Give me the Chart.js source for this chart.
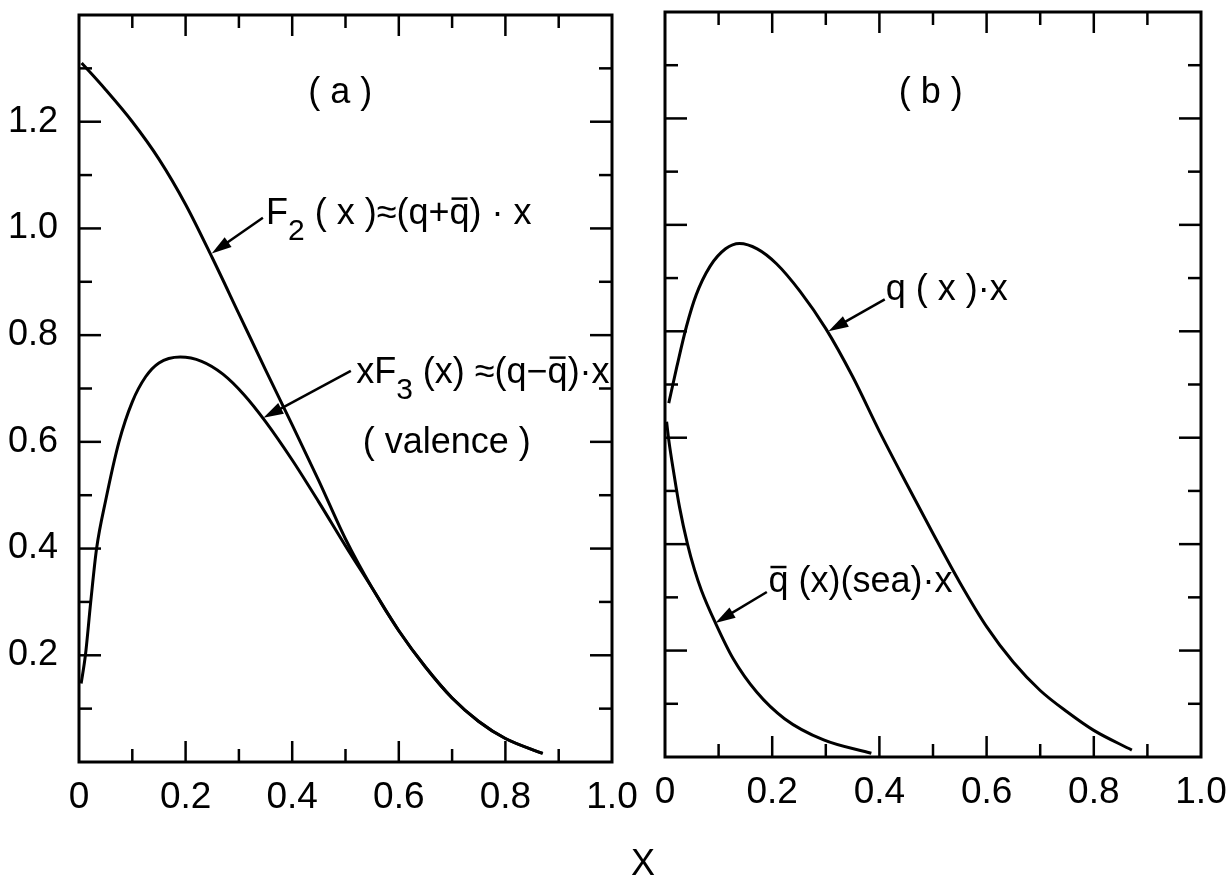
<!DOCTYPE html>
<html>
<head>
<meta charset="utf-8">
<script src="https://cdn.jsdelivr.net/npm/chart.js@4.4.1/dist/chart.umd.min.js"></script>
<style>
  html, body { margin: 0; padding: 0; background: #fff; }
  #wrap { position: relative; width: 1226px; height: 878px; }
  canvas { position: absolute; left: 0; top: 0; }
</style>
</head>
<body>
<div id="wrap">
  <canvas id="panelA" width="1226" height="878"></canvas>
  <canvas id="panelB" width="1226" height="878"></canvas>
</div>
<script>
// ---- data ----
// panel (a)
const f2X  = [0.005, 0.05, 0.10, 0.15, 0.20, 0.25, 0.30, 0.35, 0.40, 0.45, 0.50, 0.55, 0.60, 0.65, 0.70, 0.75, 0.80, 0.87];
const f2Y  = [1.31, 1.26, 1.20, 1.13, 1.045, 0.945, 0.84, 0.735, 0.632, 0.527, 0.418, 0.326, 0.246, 0.178, 0.12, 0.076, 0.044, 0.016];
const xf3X = [0.004, 0.012, 0.022, 0.033, 0.05, 0.075, 0.10, 0.125, 0.15, 0.19, 0.23, 0.27, 0.31, 0.35, 0.40, 0.45, 0.50, 0.55, 0.60, 0.65, 0.70, 0.75, 0.80, 0.87];
const xf3Y = [0.147, 0.20, 0.30, 0.40, 0.49, 0.60, 0.675, 0.722, 0.748, 0.759, 0.751, 0.727, 0.688, 0.638, 0.566, 0.487, 0.405, 0.326, 0.246, 0.178, 0.12, 0.076, 0.044, 0.016];
// panel (b)
const qX   = [0.007, 0.022, 0.04, 0.058, 0.084, 0.113, 0.139, 0.172, 0.208, 0.252, 0.30, 0.35, 0.40, 0.45, 0.50, 0.55, 0.60, 0.65, 0.70, 0.75, 0.80, 0.871];
const qY   = [0.665, 0.733, 0.809, 0.868, 0.922, 0.955, 0.965, 0.955, 0.927, 0.875, 0.805, 0.715, 0.612, 0.515, 0.420, 0.328, 0.245, 0.178, 0.125, 0.085, 0.050, 0.013];
const seaX = [0.003, 0.007, 0.017, 0.027, 0.042, 0.055, 0.068, 0.094, 0.127, 0.171, 0.223, 0.296, 0.385];
const seaY = [0.63, 0.596, 0.53, 0.47, 0.40, 0.352, 0.313, 0.252, 0.185, 0.122, 0.072, 0.032, 0.007];

const xTickLabels = ['0', '0.2', '0.4', '0.6', '0.8', '1.0'];
const yTickLabels = ['0.2', '0.4', '0.6', '0.8', '1.0', '1.2'];

const FONT = "'Liberation Sans', Arial, sans-serif";

const pts = (xs, ys) => xs.map((x, i) => ({ x: x, y: ys[i] }));

function curve(xs, ys) {
  return {
    data: pts(xs, ys),
    showLine: true,
    borderColor: '#000',
    borderWidth: 3,
    pointRadius: 0,
    cubicInterpolationMode: 'monotone',
    fill: false
  };
}

// text made of parts: plain, subscript, or with a bar over it; y is the baseline
function drawNote(ctx, x, y, parts, align) {
  const big = 36, small = 30;
  let total = 0;
  parts.forEach(p => {
    ctx.font = (p.sub ? small : big) + 'px ' + FONT;
    p.w = ctx.measureText(p.t).width;
    total += p.w;
  });
  let cx = align === 'center' ? x - total / 2 : x;
  ctx.textBaseline = 'alphabetic';
  ctx.textAlign = 'left';
  parts.forEach(p => {
    ctx.font = (p.sub ? small : big) + 'px ' + FONT;
    ctx.fillText(p.t, cx, p.sub ? y + 16 : y);
    if (p.bar) {
      ctx.lineWidth = 2.5;
      ctx.beginPath();
      ctx.moveTo(cx + 2, y - 25);
      ctx.lineTo(cx + p.w - 2, y - 25);
      ctx.stroke();
    }
    cx += p.w;
  });
}

function drawArrow(ctx, x0, y0, x1, y1) {
  const ang = Math.atan2(y1 - y0, x1 - x0);
  const head = 20, half = 6;
  ctx.lineWidth = 2.5;
  ctx.beginPath();
  ctx.moveTo(x0, y0);
  ctx.lineTo(x1 - Math.cos(ang) * head * 0.8, y1 - Math.sin(ang) * head * 0.8);
  ctx.stroke();
  ctx.beginPath();
  ctx.moveTo(x1, y1);
  ctx.lineTo(x1 - Math.cos(ang) * head - Math.sin(ang) * half, y1 - Math.sin(ang) * head + Math.cos(ang) * half);
  ctx.lineTo(x1 - Math.cos(ang) * head + Math.sin(ang) * half, y1 - Math.sin(ang) * head - Math.cos(ang) * half);
  ctx.closePath();
  ctx.fill();
}

const figure = {
  id: 'figure',
  afterDraw(chart, args, opts) {
    const ctx = chart.ctx;
    const a = chart.chartArea;
    const xs = chart.scales.x, ys = chart.scales.y;
    const line = (x0, y0, x1, y1) => { ctx.beginPath(); ctx.moveTo(x0, y0); ctx.lineTo(x1, y1); ctx.stroke(); };
    ctx.save();
    ctx.strokeStyle = '#000';
    ctx.fillStyle = '#000';
    ctx.lineWidth = 3;
    ctx.strokeRect(a.left, a.top, a.right - a.left, a.bottom - a.top);

    // inward tick marks on all four sides
    ctx.lineWidth = 2.5;
    xs.ticks.forEach(t => {
      const k = Math.round(t.value * 10);
      if (k <= 0 || k >= 10) return;
      const px = xs.getPixelForValue(t.value);
      const len = k % 2 === 0 ? 21 : 13;
      line(px, a.bottom, px, a.bottom - len);
      line(px, a.top, px, a.top + len);
    });
    ys.ticks.forEach(t => {
      const k = Math.round(t.value * 10);
      if (k <= 0 || k >= 14) return;
      const py = ys.getPixelForValue(t.value);
      const len = k % 2 === 0 ? 22 : 13;
      line(a.left, py, a.left + len, py);
      line(a.right, py, a.right - len, py);
    });

    (opts.arrows || []).forEach(ar => {
      drawArrow(ctx, xs.getPixelForValue(ar.from[0]), ys.getPixelForValue(ar.from[1]),
                     xs.getPixelForValue(ar.to[0]), ys.getPixelForValue(ar.to[1]));
    });
    (opts.notes || []).forEach(n => {
      drawNote(ctx, xs.getPixelForValue(n.at[0]), ys.getPixelForValue(n.at[1]), n.parts, n.align);
    });
    ctx.restore();
  }
};

function panelOptions(pad, yWidth, xHeight, showY, notes, arrows) {
  return {
    responsive: false,
    animation: false,
    layout: { padding: pad },
    plugins: {
      legend: { display: false },
      tooltip: { enabled: false },
      figure: { notes: notes, arrows: arrows }
    },
    scales: {
      x: {
        type: 'linear',
        min: 0,
        max: 1,
        grid: { display: false },
        border: { display: false },
        afterFit: s => { s.height = xHeight; s.paddingLeft = 0; s.paddingRight = 0; },
        ticks: {
          stepSize: 0.1,
          autoSkip: false,
          maxRotation: 0,
          padding: 6,
          color: '#000',
          font: { family: FONT, size: 37 },
          callback: v => {
            const k = Math.round(v * 10);
            return k % 2 === 0 ? xTickLabels[k / 2] : '';
          }
        }
      },
      y: {
        type: 'linear',
        min: 0,
        max: 1.4,
        grid: { display: false },
        border: { display: false },
        afterFit: s => { s.width = yWidth; s.paddingTop = 0; s.paddingBottom = 0; },
        ticks: {
          display: showY,
          stepSize: 0.1,
          autoSkip: false,
          padding: 13,
          color: '#000',
          font: { family: FONT, size: 36 },
          callback: v => {
            const k = Math.round(v * 10);
            return (k % 2 === 0 && k > 0 && k < 14) ? yTickLabels[k / 2 - 1] : '';
          }
        }
      }
    }
  };
}

new Chart(document.getElementById('panelA'), {
  type: 'scatter',
  data: { datasets: [curve(f2X, f2Y), curve(xf3X, xf3Y)] },
  options: panelOptions(
    { left: 0, right: 614, top: 15, bottom: 0 }, 79, 116, true,
    [
      { at: [0.49, 1.235], align: 'center', parts: [{ t: '( a )' }] },
      { at: [0.351, 1.009], align: 'left', parts: [{ t: 'F' }, { t: '2', sub: true }, { t: ' ( x )≈(q+' }, { t: 'q', bar: true }, { t: ') · x' }] },
      { at: [0.52, 0.711], align: 'left', parts: [{ t: 'xF' }, { t: '3', sub: true }, { t: ' (x) ≈(q−' }, { t: 'q', bar: true }, { t: ')·x' }] },
      { at: [0.69, 0.58], align: 'center', parts: [{ t: '( valence )' }] },
      { at: [1.058, -0.212], align: 'center', parts: [{ t: 'X' }] }
    ],
    [
      { from: [0.345, 1.02], to: [0.249, 0.953] },
      { from: [0.51, 0.733], to: [0.346, 0.645] }
    ]
  ),
  plugins: [figure]
});

new Chart(document.getElementById('panelB'), {
  type: 'scatter',
  data: { datasets: [curve(qX, qY), curve(seaX, seaY)] },
  options: panelOptions(
    { left: 0, right: 25, top: 12, bottom: 0 }, 665, 121, false,
    [
      { at: [0.496, 1.229], align: 'center', parts: [{ t: '( b )' }] },
      { at: [0.412, 0.859], align: 'left', parts: [{ t: 'q ( x )·x' }] },
      { at: [0.193, 0.31], align: 'left', parts: [{ t: 'q', bar: true }, { t: ' (x)(sea)·x' }] }
    ],
    [
      { from: [0.41, 0.86], to: [0.305, 0.80] },
      { from: [0.19, 0.31], to: [0.094, 0.252] }
    ]
  ),
  plugins: [figure]
});
</script>
</body>
</html>
